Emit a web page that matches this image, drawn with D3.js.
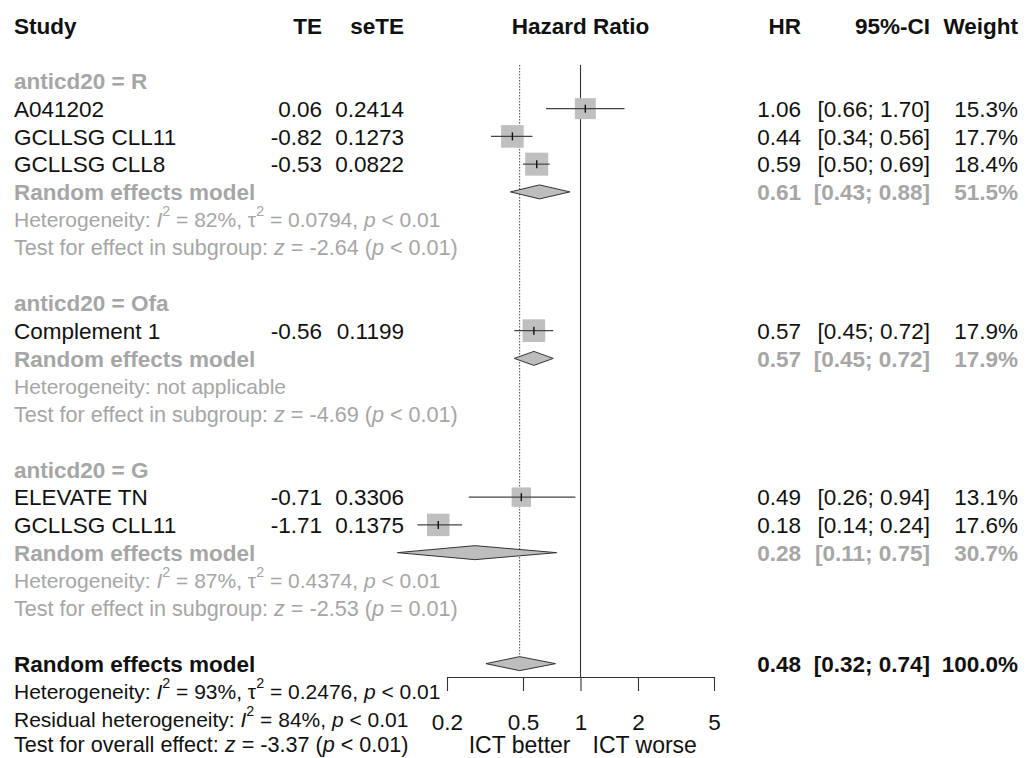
<!DOCTYPE html>
<html>
<head>
<meta charset="utf-8">
<script src="https://cdn.jsdelivr.net/npm/d3@7"></script>
<style>
  html, body { margin: 0; padding: 0; background: #fff; }
  svg { display: block; font-family: "Liberation Sans", Arial, sans-serif; }
</style>
</head>
<body>
<svg id="chart" width="1026" height="758"></svg>
<script>
// Subgroups (anti-CD20 partner)
const groups = ["R", "Ofa", "G"];

// Individual studies
const studies    = ["A041202", "GCLLSG CLL11", "GCLLSG CLL8", "Complement 1", "ELEVATE TN", "GCLLSG CLL11"];
const studyGroup = ["R", "R", "R", "Ofa", "G", "G"];
const te         = [0.06, -0.82, -0.53, -0.56, -0.71, -1.71];
const seTE       = ["0.2414", "0.1273", "0.0822", "0.1199", "0.3306", "0.1375"];
const hr         = [1.06, 0.44, 0.59, 0.57, 0.49, 0.18];
const ciLow      = [0.66, 0.34, 0.50, 0.45, 0.26, 0.14];
const ciHigh     = [1.70, 0.56, 0.69, 0.72, 0.94, 0.24];
const weight     = [15.3, 17.7, 18.4, 17.9, 13.1, 17.6];

// Subgroup random effects summaries
const groupHR     = [0.61, 0.57, 0.28];
const groupLow    = [0.43, 0.45, 0.11];
const groupHigh   = [0.88, 0.72, 0.75];
const groupWeight = [51.5, 17.9, 30.7];
const groupI2     = ["82%", null, "87%"];
const groupTau2   = ["0.0794", null, "0.4374"];
const groupHetP   = ["< 0.01", null, "< 0.01"];
const groupZ      = ["-2.64", "-4.69", "-2.53"];
const groupZp     = ["< 0.01", "< 0.01", "= 0.01"];

// Overall random effects summary
const overallHR = 0.48, overallLow = 0.32, overallHigh = 0.74, overallWeight = 100.0;
const overallI2 = "93%", overallTau2 = "0.2476", overallHetP = "< 0.01";
const residualI2 = "84%", residualP = "< 0.01";
const overallZ = "-3.37", overallZp = "< 0.01";

// Axis
const axisTicks = [0.2, 0.5, 1, 2, 5];
const axisLabelLeft = "ICT better", axisLabelRight = "ICT worse";

// ---------------------------------------------------------------
const FS = 22.5;      // table text
const FS_HET = 21;    // heterogeneity lines
const FS_TEST = 21.6; // test statistics lines
const BLACK = "#111", GRAY = "#a6a6a6";
const fmtLocale = d3.formatLocale({decimal: ".", thousands: ",", grouping: [3], currency: ["", ""], minus: "-"});
const f2 = fmtLocale.format(".2f");
const f1 = fmtLocale.format(".1f");

const svg = d3.select("#chart");

const y = d3.scaleLinear().domain([0, 26]).range([25.4, 25.4 + 26 * 27.75]);
const x = d3.scaleLog().domain([0.2, 5]).range([447, 714]);
const boxSide = d3.scaleSqrt().domain([0, 18.4]).range([0, 23]);

const col = {study: 14, te: 322, se: 404, hr: 801, ci: 930, w: 1018};
const axisY = 677;
const plotTop = 65;
const lastRowLift = 2.5;  // keep descenders of the bottom line inside the canvas

// Draws a line of text made of segments (italic / superscript aware)
function richText(xp, row, segs, opts) {
  const fs = opts.size || FS;
  const t = svg.append("text")
    .attr("x", xp).attr("y", y(row) - (opts.lift || 0)).attr("dy", "0.36em")
    .attr("font-size", fs)
    .attr("fill", opts.color)
    .attr("font-weight", opts.bold ? "bold" : "normal")
    .attr("text-anchor", opts.anchor || "start");
  let raised = false;
  const lift = Math.round(fs * 0.5);
  segs.forEach(s => {
    const sp = t.append("tspan").text(s.t);
    if (s.i) sp.attr("font-style", "italic");
    if (s.sup) {
      sp.attr("font-size", fs * 0.68).attr("dy", -lift);
      raised = true;
    } else if (raised) {
      sp.attr("dy", lift);
      raised = false;
    }
  });
  return t;
}
function plain(xp, row, str, opts) { return richText(xp, row, [{t: str}], opts); }

function hetSegs(i2, tau2, p) {
  return [{t: "Heterogeneity: "}, {t: "I", i: true}, {t: "2", sup: true}, {t: " = " + i2 + ", "},
          {t: "\u03c4"}, {t: "2", sup: true}, {t: " = " + tau2 + ", "}, {t: "p", i: true}, {t: " " + p}];
}
function testSegs(prefix, z, p) {
  return [{t: prefix}, {t: "z", i: true}, {t: " = " + z + " ("}, {t: "p", i: true}, {t: " " + p + ")"}];
}

// Header
const hdr = {color: BLACK, bold: true};
plain(col.study, 0, "Study", hdr);
plain(col.te, 0, "TE", {...hdr, anchor: "end"});
plain(col.se, 0, "seTE", {...hdr, anchor: "end"});
plain(x(1), 0, "Hazard Ratio", {...hdr, anchor: "middle"});
plain(col.hr, 0, "HR", {...hdr, anchor: "end"});
plain(col.ci, 0, "95%-CI", {...hdr, anchor: "end"});
plain(col.w, 0, "Weight", {...hdr, anchor: "end"});

// Line of no effect
svg.append("line")
  .attr("x1", x(1)).attr("x2", x(1)).attr("y1", plotTop).attr("y2", axisY)
  .attr("stroke", "#333").attr("stroke-width", 1.1);
const diamondH = 7;

// Build row layout
const layout = [];
let r = 2;
groups.forEach((g, gi) => {
  layout.push({row: r++, type: "group", gi});
  studies.forEach((s, i) => { if (studyGroup[i] === g) layout.push({row: r++, type: "study", i}); });
  layout.push({row: r++, type: "re", gi});
  layout.push({row: r++, type: "het", gi});
  layout.push({row: r++, type: "test", gi});
  r++;
});
const overallRow = r;

// Overall estimate (dotted)
svg.append("line")
  .attr("x1", x(overallHR)).attr("x2", x(overallHR))
  .attr("y1", plotTop).attr("y2", y(overallRow) - diamondH)
  .attr("stroke", "#555").attr("stroke-width", 1.1).attr("stroke-dasharray", "1.5,1.5");

function diamond(row, est, lo, hi) {
  const cy = y(row);
  const pts = [[x(lo), cy], [x(est), cy - diamondH], [x(hi), cy], [x(est), cy + diamondH]];
  svg.append("path")
    .attr("d", d3.line()(pts) + "Z")
    .attr("fill", "#bdbdbd").attr("stroke", "#333").attr("stroke-width", 1);
}

layout.forEach(d => {
  if (d.type === "group") {
    plain(col.study, d.row, "anticd20 = " + groups[d.gi], {color: GRAY, bold: true});
  } else if (d.type === "study") {
    const i = d.i, cy = y(d.row), s = boxSide(weight[i]);
    plain(col.study, d.row, studies[i], {color: BLACK});
    plain(col.te, d.row, f2(te[i]), {color: BLACK, anchor: "end"});
    plain(col.se, d.row, seTE[i], {color: BLACK, anchor: "end"});
    plain(col.hr, d.row, f2(hr[i]), {color: BLACK, anchor: "end"});
    plain(col.ci, d.row, "[" + f2(ciLow[i]) + "; " + f2(ciHigh[i]) + "]", {color: BLACK, anchor: "end"});
    plain(col.w, d.row, f1(weight[i]) + "%", {color: BLACK, anchor: "end"});
    svg.append("rect")
      .attr("x", x(hr[i]) - s / 2).attr("y", cy - s / 2)
      .attr("width", s).attr("height", s).attr("fill", "#bfbfbf");
    svg.append("line")
      .attr("x1", x(ciLow[i])).attr("x2", x(ciHigh[i])).attr("y1", cy).attr("y2", cy)
      .attr("stroke", "#444").attr("stroke-width", 1.2);
    svg.append("line")
      .attr("x1", x(hr[i])).attr("x2", x(hr[i])).attr("y1", cy - 4).attr("y2", cy + 4)
      .attr("stroke", "#111").attr("stroke-width", 1.4);
  } else if (d.type === "re") {
    const gi = d.gi, o = {color: GRAY, bold: true, anchor: "end"};
    plain(col.study, d.row, "Random effects model", {color: GRAY, bold: true});
    plain(col.hr, d.row, f2(groupHR[gi]), o);
    plain(col.ci, d.row, "[" + f2(groupLow[gi]) + "; " + f2(groupHigh[gi]) + "]", o);
    plain(col.w, d.row, f1(groupWeight[gi]) + "%", o);
    diamond(d.row, groupHR[gi], groupLow[gi], groupHigh[gi]);
  } else if (d.type === "het") {
    const gi = d.gi;
    if (groupI2[gi] === null) plain(col.study, d.row, "Heterogeneity: not applicable", {color: GRAY, size: FS_HET});
    else richText(col.study, d.row, hetSegs(groupI2[gi], groupTau2[gi], groupHetP[gi]), {color: GRAY, size: FS_HET});
  } else if (d.type === "test") {
    richText(col.study, d.row, testSegs("Test for effect in subgroup: ", groupZ[d.gi], groupZp[d.gi]),
      {color: GRAY, size: FS_TEST});
  }
});

// Overall summary
const ob = {color: BLACK, bold: true, anchor: "end"};
plain(col.study, overallRow, "Random effects model", {color: BLACK, bold: true});
plain(col.hr, overallRow, f2(overallHR), ob);
plain(col.ci, overallRow, "[" + f2(overallLow) + "; " + f2(overallHigh) + "]", ob);
plain(col.w, overallRow, f1(overallWeight) + "%", ob);
diamond(overallRow, overallHR, overallLow, overallHigh);

richText(col.study, overallRow + 1, hetSegs(overallI2, overallTau2, overallHetP), {color: BLACK, size: FS_HET});
richText(col.study, overallRow + 2,
  [{t: "Residual heterogeneity: "}, {t: "I", i: true}, {t: "2", sup: true}, {t: " = " + residualI2 + ", "},
   {t: "p", i: true}, {t: " " + residualP}], {color: BLACK, size: FS_HET});
richText(col.study, overallRow + 3, testSegs("Test for overall effect: ", overallZ, overallZp),
  {color: BLACK, size: FS_TEST, lift: lastRowLift});

// Axis
const axis = d3.axisBottom(x)
  .tickValues(axisTicks)
  .tickFormat(d => String(d))
  .tickSize(14)
  .tickSizeOuter(0)
  .tickPadding(23);
const ax = svg.append("g").attr("transform", `translate(0,${axisY})`).call(axis);
ax.select(".domain").attr("stroke", "#333").attr("stroke-width", 1.1);
ax.selectAll(".tick line").attr("stroke", "#333").attr("stroke-width", 1.1);
ax.selectAll(".tick text")
  .attr("font-size", FS).attr("fill", BLACK)
  .attr("font-family", "Liberation Sans, Arial, sans-serif");

plain(x(1) - 10, 26, axisLabelLeft, {color: BLACK, anchor: "end", size: 23, lift: lastRowLift});
plain(x(1) + 12, 26, axisLabelRight, {color: BLACK, anchor: "start", size: 23, lift: lastRowLift});
</script>
</body>
</html>
